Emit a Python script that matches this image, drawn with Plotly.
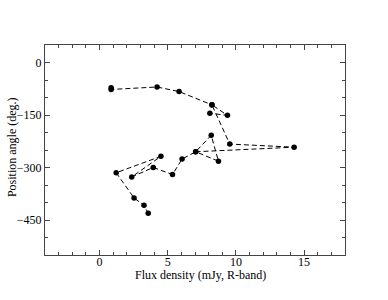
import plotly.graph_objects as go

# Flux density (mJy, R-band) and position angle (deg.), in path order
flux = [0.85, 0.85, 4.22, 5.83, 8.24, 8.09, 9.38, 8.24, 9.55, 14.27,
        7.05, 8.72, 8.19, 7.05, 6.05, 5.35, 3.94, 2.36, 4.50, 1.22,
        2.53, 3.26, 3.57]
angle = [-72, -77, -70, -83, -121, -145, -151, -121, -233, -242,
         -255, -282, -208, -255, -276, -320, -300, -327, -268, -315,
         -387, -408, -431]

x_ticks = [0, 5, 10, 15]
y_ticks = [0, -150, -300, -450]
x_title = "Flux density (mJy, R-band)"
y_title = "Position angle (deg.)"

font = dict(family="Liberation Serif, Times New Roman, serif", size=12, color="black")

fig = go.Figure()
fig.add_trace(go.Scatter(
    x=flux, y=angle, mode="lines+markers",
    line=dict(color="black", width=1, dash="5px,3px"),
    marker=dict(color="black", size=5.5),
    showlegend=False,
))

axis_common = dict(
    showline=True, linecolor="#444", linewidth=1, mirror="ticks",
    ticks="inside", ticklen=5, tickcolor="#444", tickwidth=1,
    showgrid=False, zeroline=False, tickfont=font, automargin=False,
)
fig.update_xaxes(
    range=[-4, 18], tickvals=x_ticks, ticklabelstandoff=-4,
    minor=dict(dtick=1, ticks="inside", ticklen=3, tickcolor="#444", showgrid=False),
    **axis_common,
)
fig.update_yaxes(
    range=[-550, 50], tickvals=y_ticks,
    minor=dict(dtick=50, ticks="inside", ticklen=3, tickcolor="#444", showgrid=False),
    **axis_common,
)
fig.add_annotation(text=x_title, xref="paper", yref="paper", x=0.517, y=-0.095,
                   xanchor="center", yanchor="middle", showarrow=False, font=font)
fig.add_annotation(text=y_title, xref="paper", yref="paper", x=-0.11, y=0.514,
                   xanchor="center", yanchor="middle", textangle=-90,
                   showarrow=False, font=font)
fig.update_layout(
    width=388, height=300,
    margin=dict(l=45, r=43, t=45, b=45),
    plot_bgcolor="white", paper_bgcolor="white",
    font=font,
)
fig.write_html("out.html", config={"displayModeBar": False},
               post_script="document.body.style.margin='0';")
